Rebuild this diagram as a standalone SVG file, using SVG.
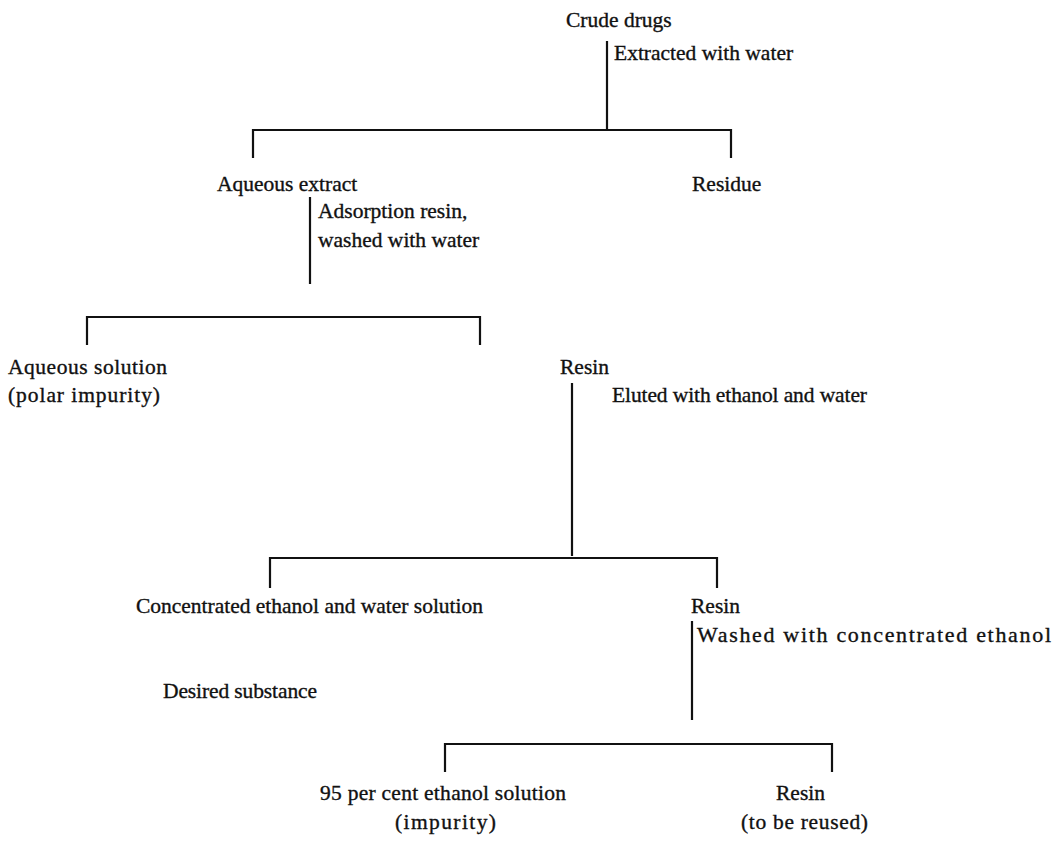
<svg xmlns="http://www.w3.org/2000/svg" width="1059" height="847" viewBox="0 0 1059 847">
<style>
text{font-family:"Liberation Serif","Times New Roman",serif;font-size:21.5px;fill:#111;stroke:#111;stroke-width:0.35}
.c line{stroke:#111;stroke-width:2.2;fill:none}
</style>
<rect width="1059" height="847" fill="#fff"/>
<g class="c" id="connectors">
<line x1="607" y1="41" x2="607" y2="129"/>
<line x1="253" y1="130" x2="731" y2="130"/>
<line x1="253" y1="129" x2="253" y2="158"/>
<line x1="731" y1="129" x2="731" y2="158"/>
<line x1="310" y1="197" x2="310" y2="284"/>
<line x1="87" y1="317" x2="480" y2="317"/>
<line x1="87" y1="316" x2="87" y2="345"/>
<line x1="480" y1="316" x2="480" y2="345"/>
<line x1="572" y1="383" x2="572" y2="556"/>
<line x1="270" y1="558" x2="717" y2="558"/>
<line x1="270" y1="557" x2="270" y2="588"/>
<line x1="717" y1="557" x2="717" y2="588"/>
<line x1="692" y1="621" x2="692" y2="720"/>
<line x1="445" y1="744" x2="832" y2="744"/>
<line x1="445" y1="743" x2="445" y2="772"/>
<line x1="832" y1="743" x2="832" y2="772"/>
</g>
<g id="crude"><text x="566" y="27">Crude drugs</text></g>
<g id="lbl1"><text x="614" y="60">Extracted with water</text></g>
<g id="aqext"><text x="217" y="191">Aqueous extract</text></g>
<g id="residue"><text x="692" y="191">Residue</text></g>
<g id="lbl2"><text x="318" y="218">Adsorption resin,</text><text x="318" y="247">washed with water</text></g>
<g id="aqsol"><text x="8" y="374" textLength="159" lengthAdjust="spacing">Aqueous solution</text><text x="8" y="402" textLength="152" lengthAdjust="spacing">(polar impurity)</text></g>
<g id="resin1"><text x="560" y="374">Resin</text></g>
<g id="lbl3"><text x="612" y="402" textLength="255" lengthAdjust="spacing">Eluted with ethanol and water</text></g>
<g id="conc"><text x="136" y="613" textLength="347" lengthAdjust="spacing">Concentrated ethanol and water solution</text></g>
<g id="resin2"><text x="691" y="613">Resin</text></g>
<g id="lbl4"><text x="697" y="642" style="font-size:22px" textLength="354" lengthAdjust="spacing">Washed with concentrated ethanol</text></g>
<g id="desired"><text x="163" y="698" textLength="154" lengthAdjust="spacing">Desired substance</text></g>
<g id="eth95"><text x="320" y="800" textLength="246" lengthAdjust="spacing">95 per cent ethanol solution</text><text x="395" y="829" textLength="101" lengthAdjust="spacing">(impurity)</text></g>
<g id="resin3"><text x="776" y="800">Resin</text><text x="741" y="829" textLength="127" lengthAdjust="spacing">(to be reused)</text></g>
</svg>
